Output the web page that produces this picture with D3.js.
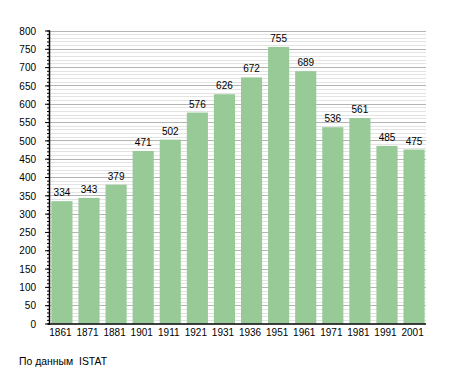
<!DOCTYPE html>
<html>
<head>
<meta charset="utf-8">
<script src="https://d3js.org/d3.v7.min.js"></script>
<style>
  body { margin: 0; background: #fff; }
  text { font-family: "Liberation Sans", Arial, sans-serif; }
</style>
</head>
<body>
<div id="chart"></div>
<script>
// data
const years = ["1861", "1871", "1881", "1901", "1911", "1921", "1931", "1936", "1951", "1961", "1971", "1981", "1991", "2001"];
const population = [334, 343, 379, 471, 502, 576, 626, 672, 755, 689, 536, 561, 485, 475];
const yMax = 800;
const sourceNote = "По данным  ISTAT";

const width = 455, height = 373;
const margin = {top: 30.5, right: 29, bottom: 49.5, left: 50};

// the original numbers are set in a slightly narrower face than what we have
function squeeze(sel) {
  sel.each(function() {
    const w = this.getComputedTextLength();
    d3.select(this).attr("textLength", w * 0.87).attr("lengthAdjust", "spacingAndGlyphs");
  });
}

const svg = d3.select("#chart").append("svg")
  .attr("width", width)
  .attr("height", height);

const x = d3.scaleBand()
  .domain(years)
  .range([margin.left, width - margin.right])
  .paddingInner(0.22)
  .paddingOuter(0.05);

const y = d3.scaleLinear()
  .domain([0, yMax])
  .range([height - margin.bottom, margin.top]);

// minor grid every 10
svg.append("g")
  .selectAll("line")
  .data(d3.range(10, yMax + 1, 10).filter(v => v % 50 !== 0))
  .join("line")
  .attr("x1", margin.left).attr("x2", width - margin.right)
  .attr("y1", d => Math.round(y(d)) + 0.5).attr("y2", d => Math.round(y(d)) + 0.5)
  .attr("stroke", "#e3e3e3");

// major grid every 50
svg.append("g")
  .selectAll("line")
  .data(d3.range(50, yMax + 1, 50))
  .join("line")
  .attr("x1", margin.left).attr("x2", width - margin.right)
  .attr("y1", d => Math.round(y(d)) + 0.5).attr("y2", d => Math.round(y(d)) + 0.5)
  .attr("stroke", "#b4b4b4");

// bars
svg.append("g")
  .selectAll("rect")
  .data(population)
  .join("rect")
  .attr("x", (d, i) => x(years[i]))
  .attr("y", d => y(d))
  .attr("width", x.bandwidth())
  .attr("height", d => y(0) - y(d))
  .attr("fill", "#98ca98");

// value labels
svg.append("g")
  .selectAll("text")
  .data(population)
  .join("text")
  .attr("x", (d, i) => x(years[i]) + x.bandwidth() / 2)
  .attr("y", d => y(d) - 5)
  .attr("text-anchor", "middle")
  .attr("font-size", "11.5px")
  .attr("fill", "#000")
  .text(d => d)
  .call(squeeze);

// y axis: minor ticks
svg.append("g")
  .attr("transform", `translate(${margin.left},0)`)
  .call(d3.axisLeft(y).tickValues(d3.range(0, yMax + 1, 10)).tickSize(3).tickFormat(""))
  .call(g => g.select(".domain").remove());

// y axis: major ticks with labels
svg.append("g")
  .attr("transform", `translate(${margin.left},0)`)
  .call(d3.axisLeft(y).tickValues(d3.range(0, yMax + 1, 50)).tickSize(5).tickPadding(9))
  .call(g => g.select(".domain").attr("d", `M-0.5,${y(yMax)}V${y(0)}`).attr("stroke-width", 1.5))
  .call(g => g.selectAll("text").attr("font-size", "11.5px").attr("fill", "#000").call(squeeze));

// x axis
svg.append("g")
  .attr("transform", `translate(0,${y(0) + 0.5})`)
  .call(d3.axisBottom(x).tickSize(0).tickPadding(4))
  .call(g => g.select(".domain").attr("d", `M${margin.left - 2},0H${width - margin.right}`).attr("stroke-width", 1.5))
  .call(g => g.selectAll("text").attr("font-size", "11.5px").attr("fill", "#000").attr("dx", "-1.5").call(squeeze));

// source note
svg.append("text")
  .attr("x", 19)
  .attr("y", 365)
  .attr("font-size", "11px")
  .style("white-space", "pre")
  .text(sourceNote)
  .call(sel => sel.attr("textLength", 88).attr("lengthAdjust", "spacingAndGlyphs"));
</script>
</body>
</html>
